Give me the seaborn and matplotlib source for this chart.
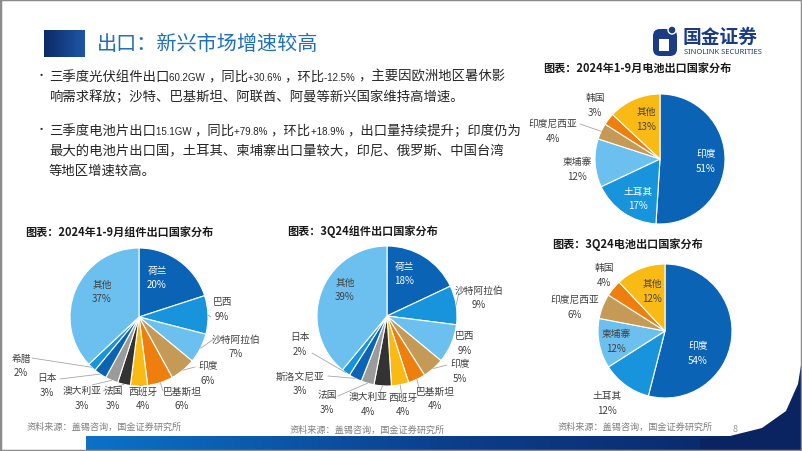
import re
import numpy as np
import matplotlib
matplotlib.use("Agg")
import matplotlib.pyplot as plt
import seaborn as sns
from matplotlib.patches import Rectangle, FancyBboxPatch, Polygon, Circle
from matplotlib.colors import LinearSegmentedColormap

# ---------------- data ----------------
mod_ytd_labels = ['荷兰', '巴西', '沙特阿拉伯', '印度', '巴基斯坦', '西班牙', '法国', '澳大利亚', '日本', '希腊', '其他']
mod_ytd_values = [20, 9, 7, 6, 6, 4, 3, 3, 3, 2, 37]
mod_q3_labels = ['荷兰', '沙特阿拉伯', '巴西', '印度', '巴基斯坦', '西班牙', '澳大利亚', '法国', '斯洛文尼亚', '日本', '其他']
mod_q3_values = [18, 9, 9, 5, 4, 4, 4, 3, 3, 2, 39]
cell_ytd_labels = ['印度', '土耳其', '柬埔寨', '印度尼西亚', '韩国', '其他']
cell_ytd_values = [51, 17, 12, 4, 3, 13]
cell_q3_labels = ['印度', '土耳其', '柬埔寨', '印度尼西亚', '韩国', '其他']
cell_q3_values = [54, 12, 12, 6, 4, 12]

chart_titles = ['图表：2024年1-9月组件出口国家分布', '图表：3Q24组件出口国家分布',
                '图表：2024年1-9月电池出口国家分布', '图表：3Q24电池出口国家分布']
page_title = '出口：新兴市场增速较高'
bullets = [
    ['三季度光伏组件出口60.2GW ，同比+30.6% ，环比-12.5% ，主要因欧洲地区暑休影',
     '响需求释放；沙特、巴基斯坦、阿联酋、阿曼等新兴国家维持高增速。'],
    ['三季度电池片出口15.1GW ，同比+79.8% ，环比+18.9% ，出口量持续提升；印度仍为',
     '最大的电池片出口国，土耳其、柬埔寨出口量较大，印尼、俄罗斯、中国台湾',
     '等地区增速较高。'],
]
source_text = '资料来源：盖锡咨询，国金证券研究所'

# ---------------- style ----------------
sns.set_theme(style='white')
plt.rcParams['font.family'] = ['Noto Sans CJK SC', 'DejaVu Sans']

palette = sns.color_palette(['#0B63B6', '#1794DC', '#6CC0F0', '#C49A56', '#EE7F0E',
                             '#F9BA14', '#333333', '#9B9B9B', '#0B63B6', '#1794DC', '#6CC0F0'])

W, H = 802, 452
fig = plt.figure(figsize=(W / 100, H / 100), dpi=100)
ax = fig.add_axes([0, 0, 1, 1])
ax.set_xlim(0, W)
ax.set_ylim(0, H)


def Y(y):
    return H - y


LBL = '#404040'
layouts = [
    dict(c=(139, 318), r=69, title=(25, 232),
         pos=[(157, 278), (222, 309), (236, 347), (208, 374), (182, 399), (143, 399),
              (113, 399), (82, 399), (47, 386), (21, 366), (102, 292)],
         anc=[None, (211, 318), (214, 340), (195, 368), (163, 392), (143, 386),
              (103, 392), (92, 386), (60, 380), (32, 359), None],
         col=['white'] + [LBL] * 10),
    dict(c=(387, 317), r=70, title=(287, 232),
         pos=[(404, 274), (479, 298), (465, 344), (460, 372), (435, 399), (403, 405),
              (368, 405), (327, 403), (300, 384), (300, 345), (345, 290)],
         anc=[None, (459, 293), None, (447, 366), (420, 392), (402, 397),
              (380, 393), (338, 397), (328, 377), (312, 354), None],
         col=['white'] + [LBL] * 10),
    dict(c=(660, 160), r=65, title=(543, 68),
         pos=[(706, 161), (638, 199), (577, 169), (553, 131), (595, 105), (646, 119)],
         anc=[None, None, None, (580, 125), None, None],
         col=['white', 'white', LBL, LBL, LBL, LBL]),
    dict(c=(665, 332), r=67, title=(552, 245),
         pos=[(698, 354), (607, 404), (616, 342), (575, 307), (604, 275), (652, 291)],
         anc=[None, None, None, None, None, None],
         col=['white', LBL, LBL, LBL, LBL, LBL]),
]
datasets = [(mod_ytd_labels, mod_ytd_values), (mod_q3_labels, mod_q3_values),
            (cell_ytd_labels, cell_ytd_values), (cell_q3_labels, cell_q3_values)]

for (labels, values), lay, ttl in zip(datasets, layouts, chart_titles):
    cx, cy = lay['c']
    r = lay['r']
    ax.pie(values, center=(cx, Y(cy)), radius=r, startangle=90, counterclock=False,
           colors=palette[:len(values)], frame=True,
           wedgeprops=dict(edgecolor='white', linewidth=0.8))
    total = float(sum(values))
    cum = 0.0
    for i, (lab, v) in enumerate(zip(labels, values)):
        mid = np.deg2rad(90 - 360 * (cum + v / 2) / total)
        cum += v
        px, py = lay['pos'][i]
        ax.text(px, Y(py - 7.5), lab, ha='center', va='center', fontsize=7,
                color=lay['col'][i], zorder=5)
        ax.text(px, Y(py + 7.5), f'{v}%', ha='center', va='center', fontsize=7,
                color=lay['col'][i], zorder=5)
        a = lay['anc'][i]
        if a is not None:
            rx = cx + r * np.cos(mid)
            ry = Y(cy) + r * np.sin(mid)
            ax.plot([a[0], rx], [Y(a[1]), ry], color='#A6A6A6', lw=0.6, zorder=4)
    tx, ty = lay['title']
    ax.text(tx, Y(ty), ttl, ha='left', va='center', fontsize=8.0, fontweight='bold',
            color='#1a1a1a')

# sources and page number
for sx, sy in [(27, 427), (290, 430), (558, 427)]:
    ax.text(sx, Y(sy), source_text, ha='left', va='center', fontsize=6.6, color='#7f7f7f')
ax.text(735, Y(430), '8', ha='center', va='center', fontsize=6.5, color='#9a9a9a')

# bullets (CJK runs + narrow latin runs)
renderer = fig.canvas.get_renderer()


def draw_runs(x, yc, s, size, color='#262626'):
    yb = Y(yc) - 4.6
    for run in re.findall(r'[\x20-\x7e]+|[^\x20-\x7e]+', s):
        if ord(run[0]) < 128:
            t = ax.text(x, yb, run, fontsize=7.0, family=['Liberation Sans', 'DejaVu Sans'],
                        ha='left', va='baseline', color=color)
        else:
            t = ax.text(x, yb, run, fontsize=size, ha='left', va='baseline', color=color)
        x += t.get_window_extent(renderer=renderer).width


lines_y = [[76, 96], [130, 150, 170]]
for blk, ys in zip(bullets, lines_y):
    ax.text(36, Y(ys[0]), '•', ha='left', va='center', fontsize=8, color='#262626')
    for t, yy in zip(blk, ys):
        draw_runs(49, yy, t, 9.6)

# page title + square
sq = np.linspace(0, 1, 64).reshape(1, -1)
cm_sq = LinearSegmentedColormap.from_list('sq', ['#0D2A68', '#1E56A6'])
ax.imshow(sq, extent=(44, 85, Y(58), Y(31)), cmap=cm_sq, aspect='auto', zorder=2)
ax.text(97, Y(45), page_title, ha='left', va='center', fontsize=14.5, color='#1F6FBF')

# logo
ax.add_patch(FancyBboxPatch((653, Y(57)), 24, 27, boxstyle='round,pad=0,rounding_size=7',
                            facecolor='#1B3C85', edgecolor='none', zorder=3))
ax.add_patch(Rectangle((659, Y(52)), 10, 12, facecolor='white', edgecolor='none', zorder=4))
ax.add_patch(Circle((672, Y(31)), 4, facecolor='#1B3C85', edgecolor='white', lw=1, zorder=5))
ax.text(683, Y(37), '国金证券', ha='left', va='center', fontsize=13.5, fontweight='bold',
        color='#1B3C85')
ax.text(684, Y(53), 'SINOLINK SECURITIES', ha='left', va='center', fontsize=5.4,
        fontweight='bold', color='#1B3C85', family=['Noto Sans', 'DejaVu Sans'])

# bottom bar + corner swoosh
grad = np.linspace(0, 1, 256).reshape(1, -1)
cm_bar = LinearSegmentedColormap.from_list('bar', ['#0B72C6', '#0C3F8C', '#0A2462'])
ax.imshow(grad, extent=(86, W, Y(452), Y(437)), cmap=cm_bar, aspect='auto', zorder=2)
curve = [(W, 360), (798, 385), (786, 412), (762, 429), (730, 437), (700, 440), (700, 452), (W, 452)]
ax.add_patch(Polygon([(x, Y(y)) for x, y in curve], closed=True, facecolor='#0A2462',
                     edgecolor='none', zorder=3))

ax.set_xlim(0, W)
ax.set_ylim(0, H)
ax.set_aspect('auto')
ax.axis('off')
fig.patches.append(Rectangle((0, 0), 1, 1, transform=fig.transFigure, fill=False,
                             edgecolor='#8c8c8c', lw=2.5))

fig.savefig('out.png', dpi=100)
